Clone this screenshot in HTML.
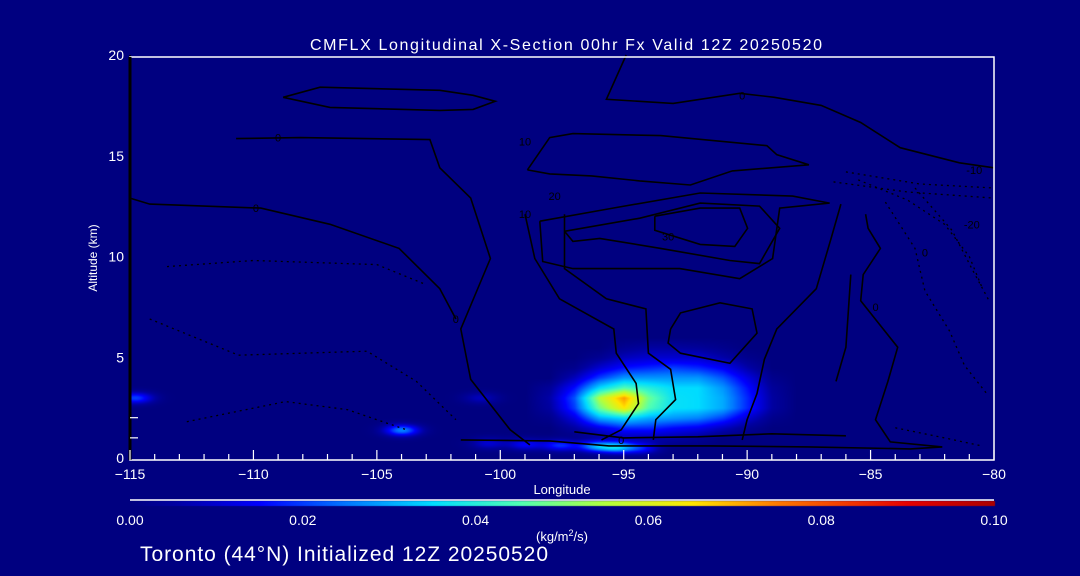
<!DOCTYPE html>
<html><head><meta charset="utf-8"><style>
html,body{margin:0;padding:0;background:#000080;width:1080px;height:576px;overflow:hidden}
#wrap{position:relative;width:1080px;height:576px}
canvas,svg{position:absolute;left:0;top:0}
text{font-family:"Liberation Sans",sans-serif;fill:#fff}
</style></head><body>
<div id="wrap">
<canvas id="heat" width="1080" height="576"></canvas>
<svg id="svg" width="1080" height="576">
<text x="310" y="50" font-size="16" textLength="512" lengthAdjust="spacing">CMFLX Longitudinal X-Section 00hr  Fx Valid 12Z 20250520</text>
<text x="562" y="494" font-size="13" text-anchor="middle">Longitude</text>
<text transform="translate(97,258) rotate(-90)" font-size="12" text-anchor="middle">Altitude (km)</text>
<text x="562" y="541" font-size="13" text-anchor="middle">(kg/m<tspan font-size="9" dy="-5">2</tspan><tspan dy="5">/s)</tspan></text>
<text x="140" y="561" font-size="21" textLength="408" lengthAdjust="spacing">Toronto (44°N) Initialized 12Z 20250520</text>
<g id="contours"></g>
<g id="axes"></g>
<g id="cbar"></g>
</svg>
</div>
<script>
// ---- data ----
const xTicksMajor = [-115,-110,-105,-100,-95,-90,-85,-80];
const yTicksMajor = [0,5,10,15,20];
const cbTicks = [0,0.02,0.04,0.06,0.08,0.10];
const gridLons = [-99,-98,-97,-96,-95,-94,-93,-92,-91,-90,-89,-88];
const gridAlts = [0,0.5,1,1.5,2,2.5,3,3.5,4,4.5,5,5.5];
const fluxGrid = [
 [0,0,0,0,0,0,0,0,0,0,0,0],
 [0,0,0,0,0,0,0,0,0,0,0,0],
 [0,0,0,.003,.006,.006,.005,.003,0,0,0,0],
 [0,0,.005,.012,.018,.018,.015,.013,.008,.003,0,0],
 [0,.002,.012,.030,.035,.030,.028,.026,.020,.010,.002,0],
 [0,.005,.020,.048,.065,.045,.036,.035,.030,.018,.005,0],
 [0,.006,.022,.055,.072,.048,.036,.035,.030,.018,.005,0],
 [0,.004,.016,.035,.045,.040,.035,.035,.028,.016,.004,0],
 [0,0,.008,.020,.028,.028,.028,.028,.022,.012,.002,0],
 [0,0,.002,.010,.016,.018,.020,.018,.014,.006,0,0],
 [0,0,0,.003,.008,.010,.010,.010,.006,.002,0,0],
 [0,0,0,0,.003,.005,.005,.004,.002,0,0,0]];
const spotLons = [-114.8,-104,-100.5,-99,-97.6,-96.2,-95.3,-94.3,-100.8];
const spotAlts = [3.0,1.4,0.75,0.7,0.65,0.6,0.55,0.5,3.0];
const spotVals = [0.020,0.026,0.010,0.014,0.018,0.024,0.030,0.015,0.008];
// contours: [lon, alt] vertices
const contourSolid = [
 [[-94.9,20],[-95.7,17.8],[-93,17.6],[-90.3,18.1],[-88.9,17.9],[-87,17.5],[-85.4,16.65],[-83.8,15.4],[-81.4,14.65],[-80,14.4]],
 [[-108.8,17.9],[-107.3,18.4],[-102.45,18.25],[-101.1,18.0],[-100.2,17.7],[-101.1,17.3],[-102.45,17.25],[-106.9,17.4],[-108.8,17.9]],
 [[-110.7,15.85],[-108.1,15.9],[-102.85,15.8],[-102.45,14.4],[-101.2,12.9],[-100.4,9.9],[-101.6,6.4],[-101.2,3.9],[-99.6,1.4],[-98.8,0.65]],
 [[-115,12.9],[-114.2,12.6],[-109.7,12.4],[-106.9,11.6],[-104.1,10.4],[-102.45,8.4],[-101.8,6.9]],
 [[-98.9,14.3],[-98,15.9],[-97.06,16.1],[-93.5,16],[-89.2,15.5],[-88.8,15.05],[-87.5,14.55],[-90.6,14.25],[-92.3,13.55],[-94.35,13.75],[-96.3,14],[-98,14.1],[-98.9,14.3]],
 [[-98.4,11.75],[-95.44,12.4],[-91.9,13.15],[-88.16,13],[-86.66,12.65],[-88.68,12.4],[-88.97,9.9],[-90.3,8.9],[-92.73,9.4],[-97.06,9.4],[-98.28,9.75],[-98.4,11.75]],
 [[-97.4,11.25],[-94.35,11.9],[-91.9,12.65],[-89.5,12.5],[-88.68,11.4],[-89.5,9.65],[-90.7,9.8],[-93.5,10.4],[-95.97,10.9],[-97.06,10.75],[-97.4,11.25]],
 [[-93.74,12.0],[-91.9,12.4],[-90.3,12.4],[-89.98,11.4],[-90.5,10.5],[-91.9,10.6],[-93.74,11.3],[-93.74,12.0]],
 [[-99,12.1],[-98.6,9.9],[-97.6,7.9],[-95.4,6.4],[-95.3,5.2],[-94.5,3.7],[-94.4,2.7],[-95.1,1.4],[-95.9,0.9]],
 [[-97.4,12.1],[-97.4,9.4],[-95.7,7.9],[-94.1,7.4],[-94,5.2],[-93.1,4.4],[-92.9,2.9],[-93.7,1.9],[-93.8,0.9]],
 [[-86.2,12.6],[-86.6,10.9],[-87.2,8.4],[-88.8,6.4],[-89.3,4.9],[-89.6,3.2],[-90,1.9],[-90.2,0.9]],
 [[-85.2,12.1],[-85.1,11.4],[-84.6,10.4],[-85.3,9.1],[-85.4,7.8],[-83.9,5.5],[-84.3,3.8],[-84.8,1.9],[-84.2,0.8],[-82.1,0.55]],
 [[-85.8,9.1],[-86,5.5],[-86.4,3.8]],
 [[-93.1,6.4],[-92.7,7.2],[-91.1,7.7],[-89.8,7.4],[-89.6,6.2],[-90.7,4.7],[-92.7,5.2],[-93.2,5.7],[-93.1,6.4]],
 [[-101.6,0.9],[-98,0.85],[-95.6,0.6],[-91.5,0.6],[-87.5,0.55],[-83.4,0.45],[-82.1,0.55]],
 [[-97,1.3],[-95,1.0],[-92,1.05],[-89,1.2],[-86,1.1]],
 [[-115,20],[-115,0]]
];
const contourDotted = [
 [[-114.2,6.9],[-110.6,5.1],[-105.4,5.3],[-103.4,3.8],[-101.8,1.9]],
 [[-112.7,1.8],[-108.7,2.8],[-106.2,2.4],[-103.8,1.4]],
 [[-113.5,9.5],[-110,9.8],[-105,9.6],[-103,8.6]],
 [[-85.5,13.8],[-83.5,12.8],[-82,11.6],[-81,10],[-80.5,8.5]],
 [[-84.4,12.7],[-83.2,10.4],[-82.8,8.3],[-81.8,6.3],[-81.2,4.6],[-80.3,3.2]],
 [[-83.2,13.4],[-81.7,11.3],[-80.9,9.4],[-80.2,7.8]],
 [[-86,14.2],[-83,13.6],[-80,13.4]],
 [[-86.5,13.7],[-83.5,13.2],[-80,12.9]],
 [[-84,1.5],[-82,1.0],[-80.5,0.6]]
];
const contourLabelText = ["0","0","10","10","20","30","0","-10","-20","0","0","0","0"];
const contourLabelLon = [-90.2,-109,-99,-99,-97.8,-93.2,-82.8,-80.8,-80.9,-84.8,-109.9,-101.8,-95.1];
const contourLabelAlt = [18.0,15.9,15.7,12.1,13.0,11.0,10.2,14.3,11.6,7.5,12.4,6.9,0.9];

// ---- scales ----
const X0=130,X1=994,YT=57,YB=460;
const xs = lon => X0 + (lon+115)/35*(X1-X0);
const ys = alt => YB - alt/20*(YB-YT) - 2;
const cbX = v => X0 + v/0.1*(X1-X0);

const stops=[[0,[0,0,128]],[0.005,[0,0,160]],[0.015,[0,0,255]],[0.025,[0,120,255]],[0.035,[0,220,255]],[0.045,[80,255,180]],[0.055,[180,255,60]],[0.065,[255,230,0]],[0.075,[255,120,0]],[0.09,[230,0,0]],[0.1,[170,0,0]]];
function cmap(v){
  if(v<=0) return stops[0][1];
  for(let i=1;i<stops.length;i++){ if(v<=stops[i][0]){const a=stops[i-1],b=stops[i];const t=(v-a[0])/(b[0]-a[0]);return a[1].map((c,k)=>c+(b[1][k]-c)*t);} }
  return stops[stops.length-1][1];
}
function gridVal(lon,alt){
  const gl=gridLons, ga=gridAlts;
  if(lon<gl[0]-0.9||lon>gl[gl.length-1]+0.9||alt>ga[ga.length-1]+0.5) return 0;
  let fi=(lon-gl[0])/(gl[1]-gl[0]), fj=(alt-ga[0])/(ga[1]-ga[0]);
  const get=(i,j)=>(i<0||j<0||i>=gl.length||j>=ga.length)?0:fluxGrid[j][i];
  const i0=Math.floor(fi), j0=Math.floor(fj), ti=fi-i0, tj=fj-j0;
  return get(i0,j0)*(1-ti)*(1-tj)+get(i0+1,j0)*ti*(1-tj)+get(i0,j0+1)*(1-ti)*tj+get(i0+1,j0+1)*ti*tj;
}
// heatmap
(function(){
  const c=document.getElementById('heat').getContext('2d');
  const w=X1-X0, h=YB-YT; const img=c.createImageData(w,h);
  for(let py=0;py<h;py++){ const alt=(YB-2-(YT+py))/((YB-YT)/20);
    for(let px=0;px<w;px++){ const lon=-115+px/w*35;
      let v=gridVal(lon,alt);
      for(let s=0;s<spotLons.length;s++){const dx=(lon-spotLons[s])/0.5, dy=(alt-spotAlts[s])/0.2; v+=spotVals[s]*Math.exp(-(dx*dx+dy*dy)/2);}
      const col=cmap(v); const o=(py*w+px)*4; img.data[o]=col[0];img.data[o+1]=col[1];img.data[o+2]=col[2];img.data[o+3]=255; } }
  c.putImageData(img,X0,YT);
  for(let px=X0;px<=X1;px++){const col=cmap((px-X0)/(X1-X0)*0.1);c.fillStyle=`rgb(${col.map(Math.round).join(',')})`;c.fillRect(px,501,1,5);}
})();
const NS='http://www.w3.org/2000/svg';
function mk(tag,attrs,parent){const e=document.createElementNS(NS,tag);for(const k in attrs)e.setAttribute(k,attrs[k]);parent.appendChild(e);return e;}
const cg=document.getElementById('contours');
contourSolid.forEach(line=>{
  const e=mk('polyline',{points:line.map(p=>xs(p[0]).toFixed(1)+','+ys(p[1]).toFixed(1)).join(' '),fill:'none',stroke:'#000','stroke-width':1.6},cg);
  
  
});
contourDotted.forEach(line=>{
  const e=mk('polyline',{points:line.map(p=>xs(p[0]).toFixed(1)+','+ys(p[1]).toFixed(1)).join(' '),fill:'none',stroke:'#000','stroke-width':1.3,'stroke-dasharray':'2 4'},cg);
  
  
});
contourLabelText.forEach((t,i)=>{
  const e=mk('text',{x:xs(contourLabelLon[i]),y:ys(contourLabelAlt[i])+4,'font-size':11,'text-anchor':'middle',style:'fill:#000'},cg);
  e.textContent=t;
  
  
});
const ag=document.getElementById('axes');
const box=mk('rect',{x:X0,y:YT,width:X1-X0,height:YB-YT,fill:'none',stroke:'#fff','stroke-width':1.5},ag);


const lax=mk('line',{x1:X0,y1:YT,x2:X0,y2:YB,stroke:'#000','stroke-width':3},ag);


for(let lon=-115;lon<=-80;lon++){
  const major=xTicksMajor.includes(lon);
  const t=mk('line',{x1:xs(lon),x2:xs(lon),y1:YB,y2:YB-(major?10:6),stroke:'#fff','stroke-width':1.2},ag);
  
  
}
xTicksMajor.forEach(v=>{
  const t=mk('text',{x:xs(v),y:479,'font-size':14,'text-anchor':'middle'},ag);
  t.textContent=(v<0?'\u2212':'')+Math.abs(v);
  
  
});
[1,2].forEach(v=>{
  const t=mk('line',{x1:X0,x2:X0+8,y1:ys(v),y2:ys(v),stroke:'#fff','stroke-width':1.2},ag);
  
  
});
yTicksMajor.forEach(v=>{
  const t=mk('text',{x:124,y:ys(v)+5,'font-size':14,'text-anchor':'end'},ag);
  t.textContent=v;
  
  
});
const bg=document.getElementById('cbar');
const cl=mk('line',{x1:X0,x2:X1,y1:500,y2:500,stroke:'#fff','stroke-width':1.5},bg);


cbTicks.forEach(v=>{
  const t=mk('text',{x:cbX(v),y:525,'font-size':14,'text-anchor':'middle'},bg);
  t.textContent=v.toFixed(2);
  
  
});
</script>
</body></html>
